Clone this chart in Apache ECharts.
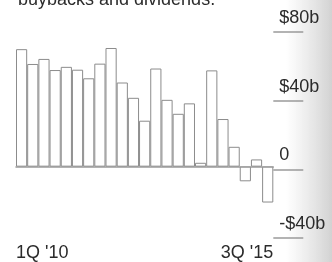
<!DOCTYPE html>
<html>
<head>
<meta charset="utf-8">
<script src="https://cdn.jsdelivr.net/npm/echarts@6/dist/echarts.min.js"></script>
<style>
  html, body { margin: 0; padding: 0; background: #fff; }
  #chart { width: 332px; height: 262px; }
</style>
</head>
<body>
<div id="chart"></div>
<script>
// quarters, 1Q '10 .. 3Q '15
const quarters = [
  "1Q '10", "2Q '10", "3Q '10", "4Q '10",
  "1Q '11", "2Q '11", "3Q '11", "4Q '11",
  "1Q '12", "2Q '12", "3Q '12", "4Q '12",
  "1Q '13", "2Q '13", "3Q '13", "4Q '13",
  "1Q '14", "2Q '14", "3Q '14", "4Q '14",
  "1Q '15", "2Q '15", "3Q '15"
]
// net value in $ billions
const netValues = [
  69.8, 61, 64, 57.4, 59.3, 57.6, 52.5, 61.2,
  70.5, 50, 40.9, 27.3, 58.3, 39.7, 31.4, 37.6,
  2.3, 57.2, 28.3, 11.8, -8.7, 4.3, -21.3
]
const yTicks = [-40, 0, 40, 80]
const yTickLabels = ['-$40b', '0', '$40b', '$80b']
const xTickLabels = ["1Q '10", "3Q '15"]

const font = '"Liberation Sans", Arial, sans-serif'
const textColor = '#2b2b2b'
const lineColor = '#9a9a9a'

const myChart = echarts.init(document.getElementById('chart'))

const options = {
  animation: false,
  textStyle: { fontFamily: font },
  // right edge shadow of the scanned page
  graphic: [
    {
      type: 'rect',
      z: -10,
      shape: { x: 286, y: 0, width: 46, height: 262 },
      style: {
        fill: new echarts.graphic.LinearGradient(0, 0, 1, 0, [
          { offset: 0, color: 'rgba(205,205,205,0)' },
          { offset: 1, color: 'rgba(195,195,195,0.75)' }
        ])
      }
    },
    {
      type: 'text',
      left: 18,
      top: -9,
      style: {
        text: 'buybacks and dividends.',
        font: '18px ' + font,
        fill: textColor
      }
    }
  ],
  grid: [
    // bars
    { left: 16, top: 32, width: 257.3, bottom: 24 },
    // tick marks + labels on the right
    { left: 273.3, top: 32, width: 30, bottom: 24 }
  ],
  xAxis: [
    {
      gridIndex: 0,
      type: 'category',
      data: quarters,
      axisLine: { onZero: true, lineStyle: { color: lineColor, width: 1.5 } },
      axisTick: { show: false },
      axisLabel: { show: false }
    },
    {
      // first / last quarter labels at the bottom
      gridIndex: 0,
      type: 'value',
      position: 'bottom',
      min: 0,
      max: quarters.length,
      interval: quarters.length,
      axisLine: { show: false },
      axisTick: { show: false },
      splitLine: { show: false },
      axisLabel: {
        margin: 10,
        fontSize: 18,
        color: textColor,
        alignMinLabel: 'left',
        alignMaxLabel: 'right',
        formatter: v => v === 0 ? xTickLabels[0] : xTickLabels[1]
      }
    },
    {
      gridIndex: 1,
      type: 'value',
      show: false
    }
  ],
  yAxis: [
    {
      gridIndex: 0,
      type: 'value',
      min: -40,
      max: 80,
      interval: 40,
      show: false
    },
    {
      gridIndex: 1,
      type: 'value',
      min: -40,
      max: 80,
      interval: 40,
      axisLine: { show: false },
      axisTick: { show: false },
      splitLine: { show: true, lineStyle: { color: lineColor, width: 1.5 } },
      axisLabel: {
        inside: true,
        margin: 6,
        fontSize: 18,
        color: textColor,
        verticalAlign: 'bottom',
        lineHeight: 28,
        formatter: v => yTickLabels[yTicks.indexOf(v)]
      }
    }
  ],
  series: [
    {
      type: 'bar',
      xAxisIndex: 0,
      yAxisIndex: 0,
      data: netValues,
      barCategoryGap: '0%',
      itemStyle: {
        color: '#fff',
        borderColor: '#8c8c8c',
        borderWidth: 1
      }
    }
  ]
}

myChart.setOption(options)
</script>
</body>
</html>
